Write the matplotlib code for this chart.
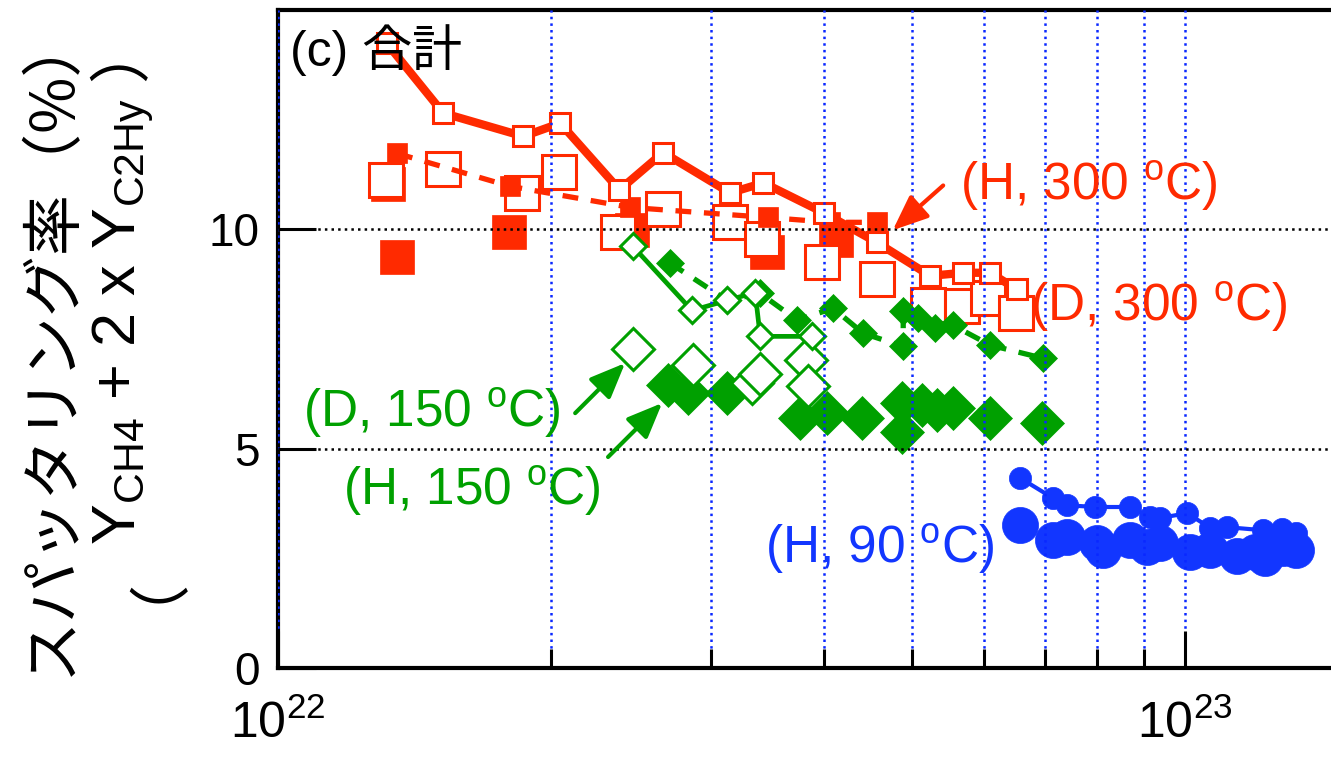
import numpy as np
import matplotlib
matplotlib.use("Agg")
import matplotlib.pyplot as plt
from matplotlib.ticker import LogLocator, NullFormatter, FixedLocator

plt.rcParams["font.family"] = ["Liberation Sans", "Noto Sans CJK JP"]
plt.rcParams["mathtext.fontset"] = "custom"
plt.rcParams["mathtext.rm"] = "Liberation Sans"
plt.rcParams["mathtext.it"] = "Liberation Sans:italic"
plt.rcParams["mathtext.default"] = "regular"

RED = "#ff2a00"
GREEN = "#00a000"
BLUE = "#1236ff"
GRID_BLUE = "#0a28ff"

# fluence in units of 1e22, sputtering yield in %
# (H, 300 C) small open squares, solid line
h300_x = [1.318, 1.521, 1.864, 2.047, 2.379, 2.658, 3.150, 3.428, 3.993, 4.573, 5.235, 5.694, 6.095, 6.523]
h300_y = [14.24, 12.65, 12.12, 12.42, 10.90, 11.75, 10.83, 11.06, 10.38, 9.70, 8.94, 9.01, 9.01, 8.63]

# (D, 300 C) small filled squares, dashed line
d300_x = [1.353, 1.803, 2.444, 3.469, 4.061, 4.576]
d300_y = [11.73, 10.98, 10.50, 10.27, 10.16, 10.16]

# 300 C large open squares
h300b_x = [1.316, 1.520, 1.858, 2.041, 2.371, 2.658, 3.150, 3.417, 3.980, 4.576, 5.208, 5.676, 6.065, 6.512]
h300b_y = [11.12, 11.37, 10.82, 11.30, 9.93, 10.46, 10.16, 9.79, 9.25, 8.86, 8.27, 8.25, 8.43, 8.09]

# 300 C large filled squares
d300b_x = [1.322, 1.353, 1.798, 2.456, 3.461, 4.123]
d300b_y = [11.03, 9.38, 9.93, 9.98, 9.48, 9.75]

# (D, 150 C) small open diamonds, solid line
d150_x = [2.462, 2.860, 3.126, 3.357, 3.400, 3.879]
d150_y = [9.61, 8.15, 8.38, 8.56, 7.56, 7.56]

# (H, 150 C) small filled diamonds, dashed line
h150_x = [2.705, 3.126, 3.400, 3.734, 4.092, 4.416, 4.888, 4.888, 5.077, 5.302, 5.549, 6.095, 6.973]
h150_y = [9.23, 8.38, 8.54, 7.93, 8.20, 7.63, 7.33, 8.13, 7.97, 7.74, 7.81, 7.36, 7.06]

# 150 C large open diamonds
d150b_x = [2.462, 2.868, 3.331, 3.400, 3.820, 3.840]
d150b_y = [7.27, 6.90, 6.49, 6.70, 7.02, 6.42]

# 150 C large filled diamonds
h150b_x = [2.692, 2.831, 3.126, 3.763, 4.030, 4.405, 4.875, 4.875, 5.129, 5.329, 5.549, 6.095, 6.956]
h150b_y = [6.45, 6.26, 6.26, 5.69, 5.81, 5.69, 6.04, 5.38, 5.99, 5.88, 5.92, 5.69, 5.58]

# (H, 90 C) small circles, solid line
h90_x = [6.578, 7.153, 7.411, 7.957, 8.697, 9.150, 9.385, 10.05, 10.66, 11.13, 12.19, 12.79, 13.26]
h90_y = [4.33, 3.87, 3.71, 3.67, 3.67, 3.44, 3.42, 3.53, 3.19, 3.21, 3.14, 3.17, 3.08]

# 90 C large circles
h90b_x = [6.578, 7.153, 7.411, 7.998, 8.121, 8.697, 9.082, 9.385, 10.13, 10.66, 11.41, 11.95, 12.25, 12.83, 13.26]
h90b_y = [3.26, 2.92, 2.98, 2.85, 2.69, 2.92, 2.76, 2.85, 2.64, 2.69, 2.55, 2.64, 2.51, 2.73, 2.69]

yticks = [0, 5, 10]


def fl(v):
    return np.array(v) * 1e22


fig = plt.figure(figsize=(13.31, 7.57), dpi=100)
ax = fig.add_axes([278 / 1331, 89 / 757, 1067 / 1331, 658 / 757])

# red group
ax.plot(fl(d300b_x), d300b_y, ls="none", marker="s", ms=25, color=RED, mec=RED, mew=0.5)
ax.plot(fl(h300b_x), h300b_y, ls="none", marker="s", ms=24.5, mfc="white", mec=RED, mew=2.2)
ax.plot(fl(d300_x), d300_y, ls="--", dashes=(3, 2.4), lw=3.8, marker="s", ms=15, color=RED, mec=RED, mew=0.5)
ax.plot(fl(h300_x), h300_y, ls="-", lw=6, marker="s", ms=14.4, color=RED, mfc="white", mec=RED, mew=2.2)

# green group
ax.plot(fl(h150b_x), h150b_y, ls="none", marker="D", ms=22, color=GREEN, mec=GREEN, mew=0.5)
ax.plot(fl(d150b_x), d150b_y, ls="none", marker="D", ms=21.5, mfc="white", mec=GREEN, mew=2.2)
ax.plot(fl(h150_x), h150_y, ls="--", dashes=(3, 2.4), lw=3.8, marker="D", ms=14.5, color=GREEN, mec=GREEN, mew=0.5)
ax.plot(fl(d150_x), d150_y, ls="-", lw=3.4, marker="D", ms=13, color=GREEN, mfc="white", mec=GREEN, mew=2.2)

# blue group
ax.plot(fl(h90b_x), h90b_y, ls="none", marker="o", ms=26, color=BLUE, mec=BLUE, mew=0.5)
ax.plot(fl(h90_x), h90_y, ls="-", lw=3, marker="o", ms=16, color=BLUE, mec=BLUE, mew=0.5)

ax.set_xscale("log")
ax.set_xlim(1e22, 1.5e23)
ax.set_ylim(0, 15)

ax.xaxis.set_major_locator(LogLocator(base=10))
ax.xaxis.set_minor_locator(LogLocator(base=10, subs=np.arange(2, 10)))
ax.xaxis.set_minor_formatter(NullFormatter())
ax.yaxis.set_major_locator(FixedLocator(yticks))

ax.set_axisbelow(False)
ax.xaxis.grid(True, which="both", color=GRID_BLUE, ls=":", lw=1.8)
ax.yaxis.grid(True, which="major", color="black", ls=":", lw=1.8)

ax.tick_params(axis="both", which="major", direction="in", length=27, width=2.2,
               top=False, right=False)
ax.tick_params(axis="x", which="minor", direction="in", length=14, width=2.2, top=False)
ax.tick_params(axis="x", which="major", pad=23, labelsize=36)
ax.tick_params(axis="y", which="major", pad=13, labelsize=33)
for side in ("left", "bottom", "top"):
    ax.spines[side].set_linewidth(3)
ax.spines["right"].set_visible(False)

# labels
ax.text(1.031e22, 14.08, "(c) 合計", fontsize=36, color="black", va="center", ha="left")
ax.text(5.65e22, 11.0, r"(H, 300 $^{o}$C)", fontsize=37, color=RED, va="center", ha="left")
ax.text(6.75e22, 8.25, r"(D, 300 $^{o}$C)", fontsize=37, color=RED, va="center", ha="left")
ax.text(1.066e22, 5.83, r"(D, 150 $^{o}$C)", fontsize=37, color=GREEN, va="center", ha="left")
ax.text(1.18e22, 4.05, r"(H, 150 $^{o}$C)", fontsize=37, color=GREEN, va="center", ha="left")
ax.text(3.44e22, 2.73, r"(H, 90 $^{o}$C)", fontsize=37, color=BLUE, va="center", ha="left")

arrow = "-|>,head_length=1.2,head_width=0.5"
ax.annotate("", xy=(4.76e22, 9.98), xytext=(5.41e22, 11.0),
            arrowprops=dict(arrowstyle=arrow, lw=3, color=RED, mutation_scale=18, shrinkA=0, shrinkB=0))
ax.annotate("", xy=(2.413e22, 6.95), xytext=(2.126e22, 5.81),
            arrowprops=dict(arrowstyle=arrow, lw=3, color=GREEN, mutation_scale=18, shrinkA=0, shrinkB=0))
ax.annotate("", xy=(2.651e22, 6.04), xytext=(2.311e22, 4.81),
            arrowprops=dict(arrowstyle=arrow, lw=3, color=GREEN, mutation_scale=18, shrinkA=0, shrinkB=0))

# two-line y label, drawn as rotated figure texts
H = 757
fig.text(52 / 1331, 1 - 342 / H, "スパッタリング率（%）", rotation=90, ha="center", va="center",
         fontsize=44, family=["Noto Sans CJK JP"])
lx = 123 / 1331
fig.text(lx, 1 - 572 / H, "（", rotation=90, ha="center", va="center",
         fontsize=44, family=["Noto Sans CJK JP"])
fig.text(lx, 1 - 322 / H, r"$Y_{CH4}$ + 2 x $Y_{C2Hy}$", rotation=90, ha="center",
         va="center", fontsize=44)
fig.text(lx, 1 - 50 / H, "）", rotation=90, ha="center", va="center",
         fontsize=44, family=["Noto Sans CJK JP"])

fig.savefig("out.png", dpi=100)
